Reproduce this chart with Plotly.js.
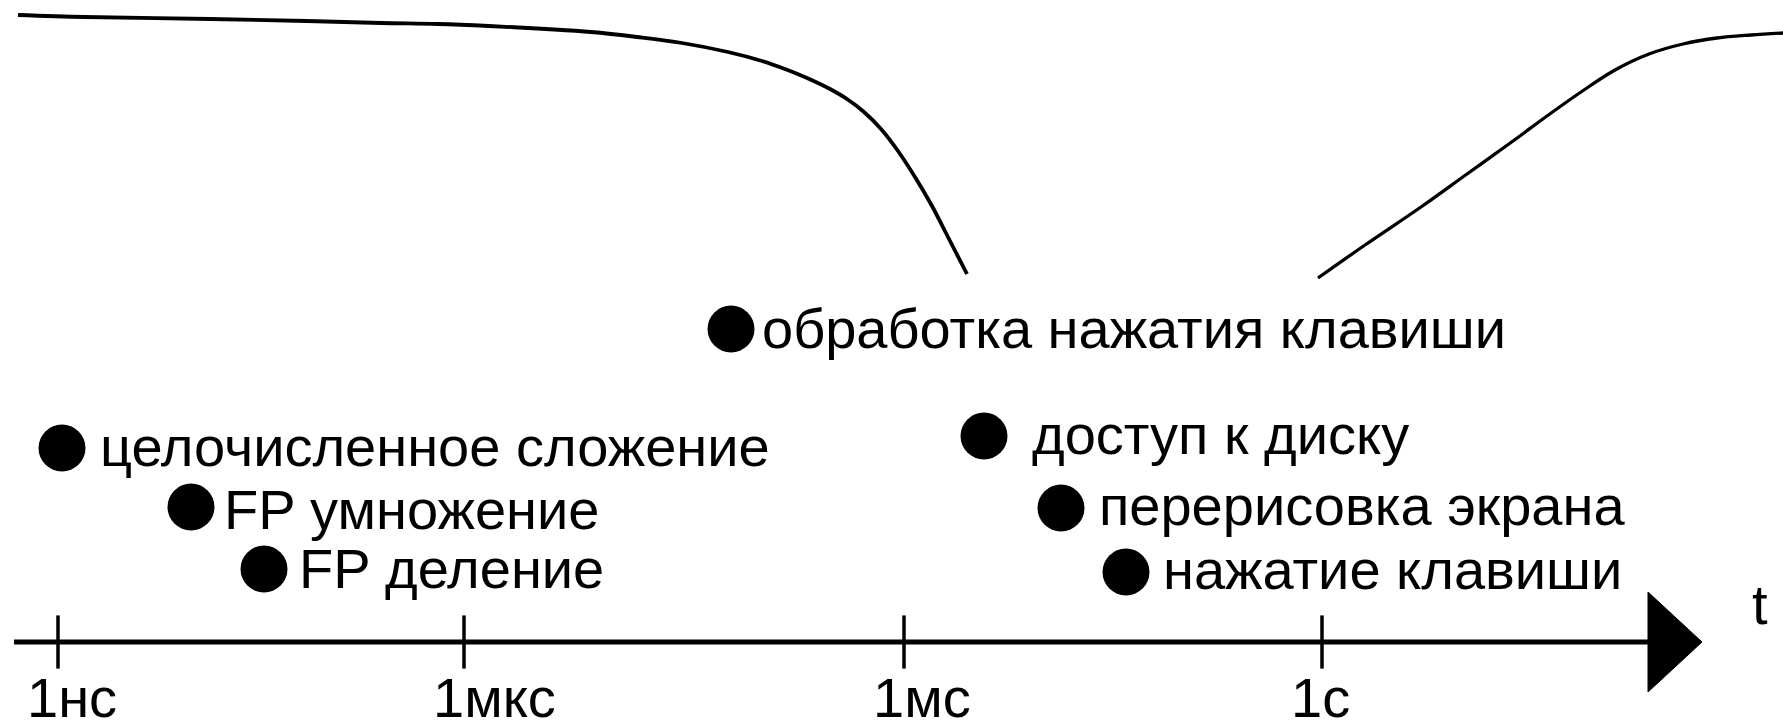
<!DOCTYPE html>
<html>
<head>
<meta charset="utf-8">
<script src="https://cdn.plot.ly/plotly-3.0.1.min.js"></script>
<style>
  html, body { margin: 0; padding: 0; background: #ffffff; }
  #chart { width: 1783px; height: 721px; }
</style>
</head>
<body>
<div id="chart"></div>
<script>
// ---- Data (diagram units: time axis runs left to right) ----
const tickPos = [58, 464, 904, 1322];
const tickLabels = ['1нс', '1мкс', '1мс', '1с'];

const eventNames = [
  'целочисленное сложение',
  'FP умножение',
  'FP деление',
  'обработка нажатия клавиши',
  'доступ к диску',
  'перерисовка экрана',
  'нажатие клавиши'
];
const eventX = [62, 191, 264, 731, 984, 1061, 1126];
const eventY = [448, 507, 569, 329, 436, 508, 572];
const labelX = [101, 225, 300, 763, 1033, 1100, 1164];
const labelY = [446, 509, 568, 328, 434, 505, 569];

// upper curve, left branch (falls off) and right branch (rises again)
const curveLeftX = [18, 85, 210, 307, 381, 438, 489, 546, 591, 637, 682, 728, 762, 785, 807, 830, 847, 864, 881, 898, 915, 932, 949, 967];
const curveLeftY = [15, 17, 19, 21, 23, 24, 26, 29, 32, 37, 43, 52, 61, 69, 78, 89, 99, 112, 129, 151, 177, 206, 239, 274];
const curveRightX = [1318, 1365, 1421, 1467, 1513, 1547, 1581, 1615, 1649, 1683, 1717, 1751, 1783];
const curveRightY = [278, 245, 207, 174, 141, 116, 92, 70, 54, 44, 38, 35, 33];

// time axis
const axisY = 642;
const axisStart = 14;
const axisEnd = 1648;
const arrowTip = 1702;
const arrowHalf = 50;
const axisName = 't';

// ---- Styles ----
const FONT = 'Liberation Sans, Arial, sans-serif';
const FS = 56;
const INK = '#000000';

const traces = [
  {
    x: curveLeftX, y: curveLeftY, type: 'scatter', mode: 'lines',
    line: { color: INK, width: 3.8, shape: 'spline', smoothing: 1 },
    hoverinfo: 'skip'
  },
  {
    x: curveRightX, y: curveRightY, type: 'scatter', mode: 'lines',
    line: { color: INK, width: 3.3, shape: 'spline', smoothing: 1 },
    hoverinfo: 'skip'
  },
  {
    x: [axisStart, axisEnd], y: [axisY, axisY], type: 'scatter', mode: 'lines',
    line: { color: INK, width: 5 },
    hoverinfo: 'skip'
  },
  {
    x: tickPos, y: tickPos.map(() => axisY), type: 'scatter', mode: 'markers',
    marker: { symbol: 'line-ns', size: 38, color: INK, line: { color: INK, width: 3.5 } },
    hoverinfo: 'skip'
  },
  {
    x: eventX, y: eventY, type: 'scatter', mode: 'markers',
    marker: { symbol: 'circle', size: 47, color: INK, line: { width: 0 } },
    text: eventNames, hoverinfo: 'text'
  }
];

const annotations = [];
eventNames.forEach((name, i) => {
  annotations.push({
    x: labelX[i], y: labelY[i], xref: 'x', yref: 'y',
    text: name, showarrow: false, xanchor: 'left', yanchor: 'middle',
    xshift: -3,
    font: { family: FONT, size: FS, color: INK }
  });
});
tickLabels.forEach((lab, i) => {
  annotations.push({
    x: tickPos[i], y: 697, xref: 'x', yref: 'y',
    text: lab, showarrow: false, xanchor: 'left', yanchor: 'middle',
    xshift: -33,
    font: { family: FONT, size: FS, color: INK }
  });
});
annotations.push({
  x: 1760, y: 604, xref: 'x', yref: 'y',
  text: axisName, showarrow: false, xanchor: 'center', yanchor: 'middle',
  font: { family: FONT, size: FS, color: INK }
});

const layout = {
  width: 1783, height: 721,
  margin: { l: 0, r: 0, t: 0, b: 0, pad: 0 },
  paper_bgcolor: '#ffffff', plot_bgcolor: '#ffffff',
  showlegend: false,
  xaxis: { range: [0, 1783], visible: false, fixedrange: true },
  yaxis: { range: [721, 0], visible: false, fixedrange: true },
  annotations: annotations,
  shapes: [
    {
      type: 'path', xref: 'x', yref: 'y',
      path: 'M ' + axisEnd + ',' + (axisY - arrowHalf) +
            ' L ' + arrowTip + ',' + axisY +
            ' L ' + axisEnd + ',' + (axisY + arrowHalf) + ' Z',
      fillcolor: INK, line: { color: INK, width: 1 }
    }
  ]
};

Plotly.newPlot('chart', traces, layout, { staticPlot: true, displayModeBar: false });
</script>
</body>
</html>
